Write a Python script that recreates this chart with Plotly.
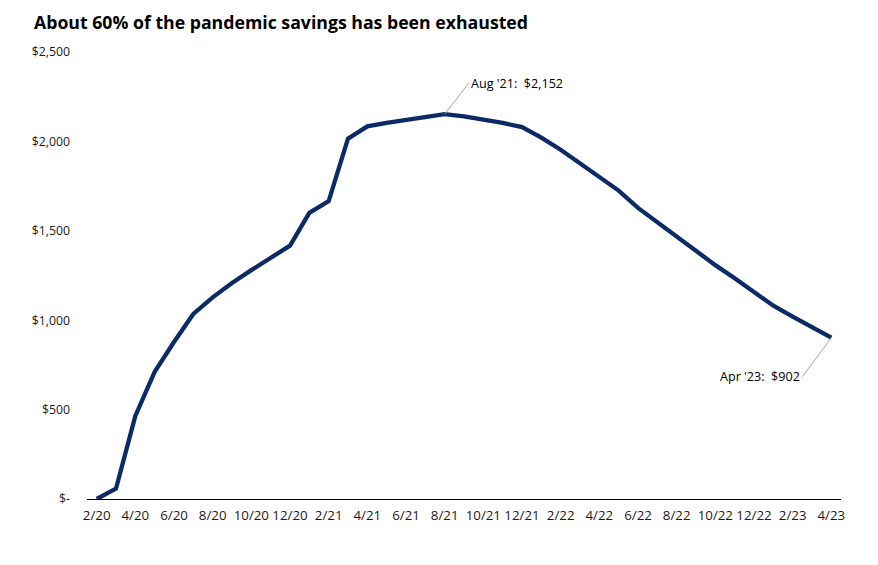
import plotly.graph_objects as go

# Monthly categories Feb 2020 .. Apr 2023
months = ["2/20", "3/20", "4/20", "5/20", "6/20", "7/20", "8/20", "9/20", "10/20", "11/20",
          "12/20", "1/21", "2/21", "3/21", "4/21", "5/21", "6/21", "7/21", "8/21", "9/21",
          "10/21", "11/21", "12/21", "1/22", "2/22", "3/22", "4/22", "5/22", "6/22", "7/22",
          "8/22", "9/22", "10/22", "11/22", "12/22", "1/23", "2/23", "3/23", "4/23"]

# Excess savings, $ billions
savings = [0, 58, 465, 711, 878, 1035, 1128, 1208, 1280, 1350,
           1417, 1600, 1666, 2015, 2084, 2104, 2118, 2133, 2152, 2140,
           2123, 2103, 2080, 2021, 1953, 1875, 1800, 1725, 1628, 1548,
           1468, 1381, 1308, 1235, 1158, 1081, 1020, 960, 902]

x_tick_labels = months[::2]
y_tick_vals = [0, 500, 1000, 1500, 2000, 2500]
y_tick_text = ["$-", "$500", "$1,000", "$1,500", "$2,000", "$2,500"]
boundary_ticks = [i - 0.5 for i in range(0, len(months), 2)]

title_text = "<b>About 60% of the pandemic savings has been exhausted</b>"
peak_label = "Aug '21:  $2,152"
last_label = "Apr '23:  $902"

LINE = "#0C2A66"
FONT = "Open Sans"

# page body adds an 8px offset; figure sized to fit inside the window
W, H = 870, 557
ML, MR, MT, MB = 79, 37, 44, 66
PW, PH = W - ML - MR, H - MT - MB

fig = go.Figure()
fig.add_trace(go.Scatter(x=months, y=savings, mode="lines",
                         line=dict(color=LINE, width=4.3), showlegend=False,
                         hoverinfo="x+y"))

fig.update_layout(
    width=W, height=H,
    margin=dict(l=ML, r=MR, t=MT, b=MB),
    paper_bgcolor="white", plot_bgcolor="white",
    xaxis=dict(type="category", categoryorder="array", categoryarray=months,
               range=[-0.5, len(months) - 0.5],
               tickmode="array", tickvals=x_tick_labels, ticktext=x_tick_labels,
               ticks="", showgrid=False, zeroline=False,
               showline=True, linecolor="black", linewidth=1.3,
               tickfont=dict(family=FONT, size=13.3, color="#1a1a1a"),
               ticklabelstandoff=4),
    xaxis2=dict(overlaying="x", anchor="y", range=[-0.5, len(months) - 0.5],
                tickmode="array", tickvals=boundary_ticks, ticks="outside",
                ticklen=5, tickcolor="black", tickwidth=1.2,
                showticklabels=False, showgrid=False, zeroline=False,
                showline=False, side="bottom"),
    yaxis=dict(range=[0, 2500], tickmode="array", tickvals=y_tick_vals,
               ticktext=y_tick_text, ticks="", showgrid=False, zeroline=False,
               showline=False,
               tickfont=dict(family=FONT, size=12.3, color="#1a1a1a"),
               ticklabelstandoff=16),
)

# chart title as a top-left annotation
fig.add_annotation(text=title_text, xref="paper", yref="paper",
                   x=(24 - ML) / PW, y=1 + (MT + 0) / PH,
                   xanchor="left", yanchor="top", showarrow=False,
                   font=dict(family=FONT, size=17.7, color="black"))

fig.add_annotation(x="8/21", y=2152, text=peak_label, showarrow=True,
                   arrowhead=0, arrowwidth=1, arrowcolor="#A6A6A6",
                   ax=24, ay=-31, xanchor="left", yanchor="middle",
                   font=dict(family=FONT, size=12.6, color="black"))
fig.add_annotation(x="4/23", y=902, text=last_label, showarrow=True,
                   arrowhead=0, arrowwidth=1, arrowcolor="#A6A6A6",
                   ax=-29, ay=39, xanchor="right", yanchor="middle",
                   font=dict(family=FONT, size=12.6, color="black"))

fig.write_html("out.html")
